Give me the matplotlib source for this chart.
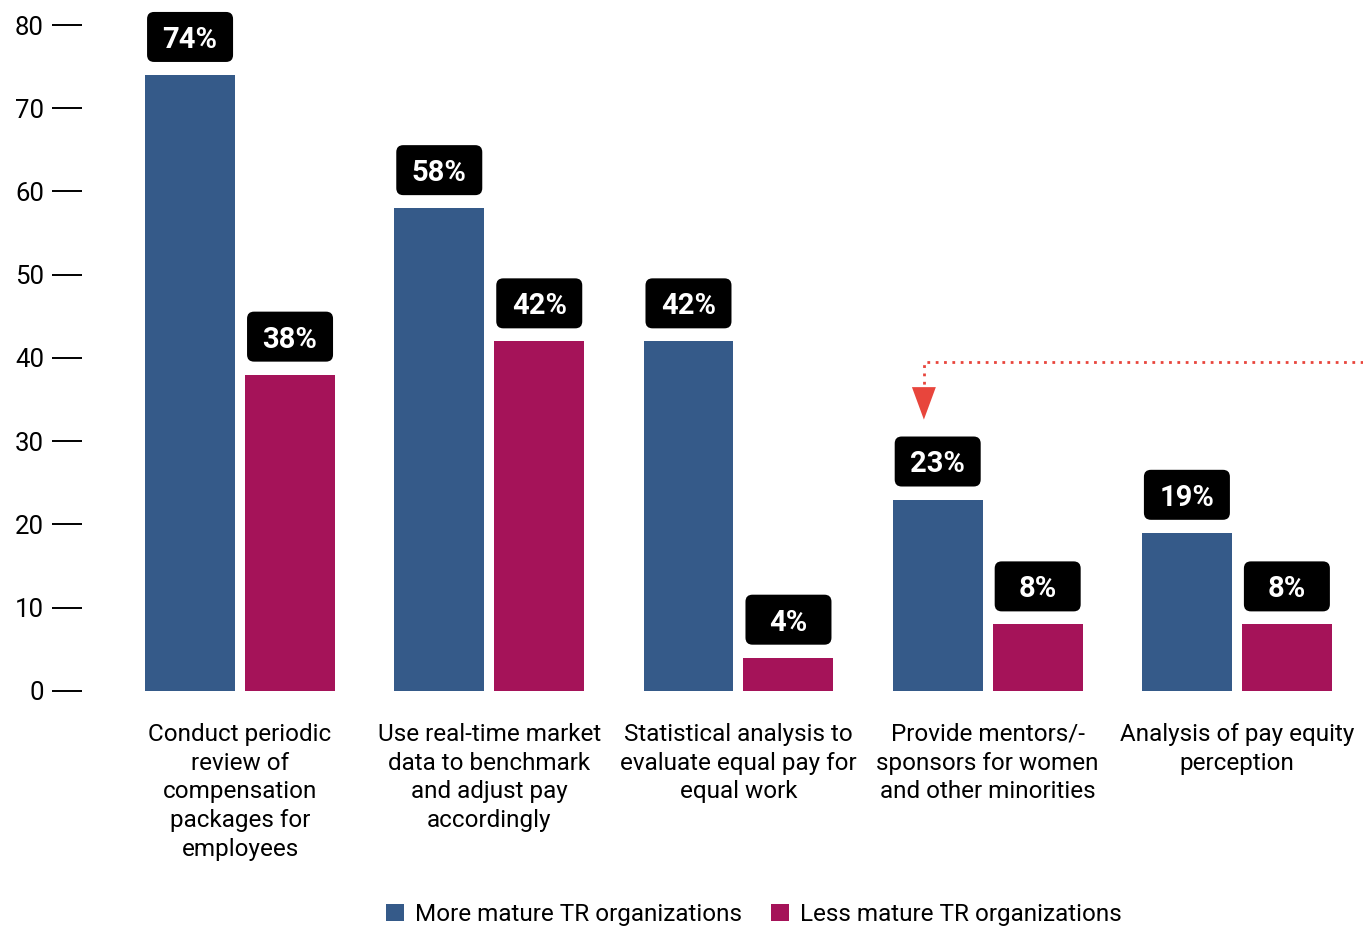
import matplotlib
matplotlib.use("Agg")
import matplotlib.pyplot as plt
import matplotlib.transforms as mtransforms
from matplotlib.patches import FancyBboxPatch, Polygon
import numpy as np

plt.rcParams['font.family'] = ['Roboto', 'DejaVu Sans']

categories = [
    "Conduct periodic\nreview of\ncompensation\npackages for\nemployees",
    "Use real-time market\ndata to benchmark\nand adjust pay\naccordingly",
    "Statistical analysis to\nevaluate equal pay for\nequal work",
    "Provide mentors/-\nsponsors for women\nand other minorities",
    "Analysis of pay equity\nperception",
]
more_mature = [74, 58, 42, 23, 19]
less_mature = [38, 42, 4, 8, 8]
series_names = ["More mature TR organizations", "Less mature TR organizations"]
colors = ["#355a89", "#a51359"]

fig = plt.figure(figsize=(13.63, 9.26), dpi=100)
ax = fig.add_axes([0.0602, 0.2538, 0.9398, 0.7192])

x = np.arange(len(categories))
w = 0.361
off = 0.2006
ax.bar(x - off, more_mature, w, color=colors[0], label=series_names[0])
ax.bar(x + off, less_mature, w, color=colors[1], label=series_names[1])

ax.set_xlim(-0.634, 4.506)
ax.set_ylim(0, 80)
ax.set_yticks(range(0, 81, 10))
ax.tick_params(axis='y', length=21.6, width=1.4, pad=5.8, labelsize=18.5, direction='out')
ax.set_xticks(x)
ax.set_xticklabels(categories, fontsize=17.5, linespacing=1.32)
ax.tick_params(axis='x', length=0, pad=23)
for s in ax.spines.values():
    s.set_visible(False)

# value badges above each bar
def badge(xc, v):
    tr = fig.dpi_scale_trans + mtransforms.ScaledTranslation(xc, v, ax.transData)
    box = FancyBboxPatch((-0.43, 0.13), 0.86, 0.50,
                         boxstyle="round,pad=0,rounding_size=0.07",
                         facecolor="black", edgecolor="none", transform=tr, clip_on=False)
    ax.add_patch(box)
    ax.annotate(f"{v}%", (xc, v), xytext=(0, 19.5), textcoords='offset points',
                ha='center', va='baseline', color='white', fontsize=21, fontweight='bold')

for i in range(len(categories)):
    badge(x[i] - off, more_mature[i])
    badge(x[i] + off, less_mature[i])

# dotted red pointer toward the mentors bar
ax_x, line_y, stem_y, tip_y = 2.744, 39.5, 36.4, 32.6
ax.plot([4.506, ax_x, ax_x], [line_y, line_y, stem_y], linestyle=(0, (1, 2)),
        color="#e8453c", lw=2, clip_on=False)
ax.add_patch(Polygon([[ax_x - 0.048, stem_y + 0.1], [ax_x + 0.048, stem_y + 0.1], [ax_x, tip_y]],
                     closed=True, facecolor="#e8453c", edgecolor="none"))

fig.legend(loc='center', bbox_to_anchor=(0.553, 0.0125), ncol=2, frameon=False,
           fontsize=17.5, handlelength=0.75, handleheight=0.75, handletextpad=0.45,
           columnspacing=1.2)

fig.savefig("out.png", dpi=100)
